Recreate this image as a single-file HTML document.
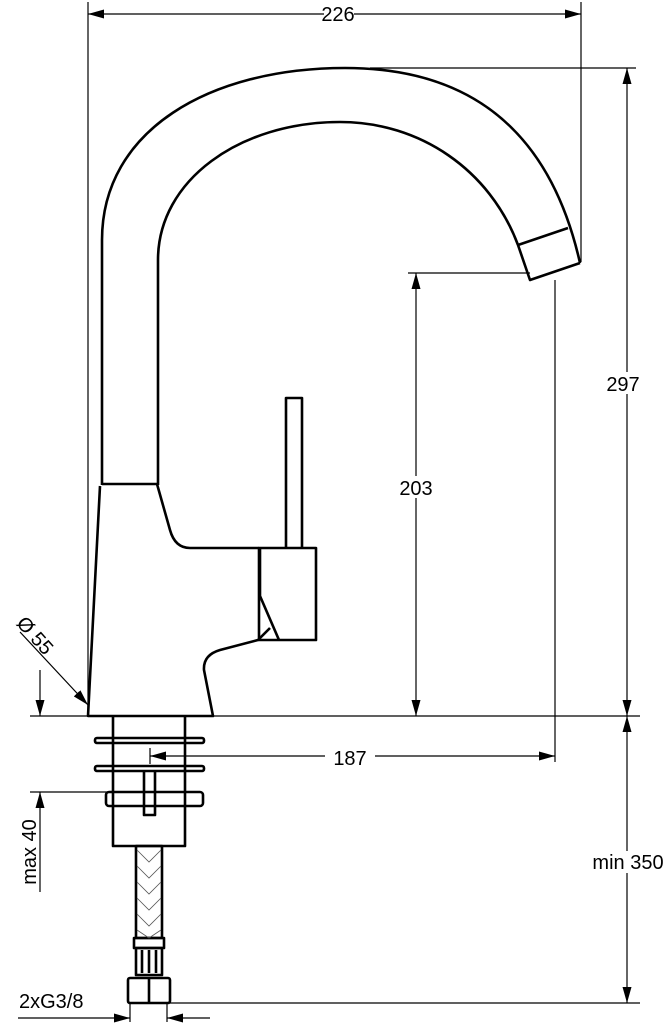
<!DOCTYPE html>
<html><head><meta charset="utf-8"><style>body{margin:0;background:#fff}svg{display:block}text{font-family:"Liberation Sans",sans-serif;font-size:20px;fill:#000}</style></head><body>
<svg width="670" height="1024" viewBox="0 0 670 1024" xmlns="http://www.w3.org/2000/svg">
<defs><marker id="a" viewBox="0 0 16 8" refX="16" refY="4" markerWidth="16" markerHeight="9" orient="auto-start-reverse" markerUnits="userSpaceOnUse" preserveAspectRatio="none"><path d="M0,0L16,4L0,8z"/></marker></defs>
<g stroke="#000" stroke-width="1.2" fill="none">
<line x1="88" y1="2" x2="88" y2="716"/><line x1="581" y1="2" x2="581" y2="262"/>
<line x1="88" y1="14" x2="581" y2="14" marker-start="url(#a)" marker-end="url(#a)"/>
<line x1="370" y1="68" x2="636" y2="68"/>
<line x1="627" y1="68" x2="627" y2="716" marker-start="url(#a)" marker-end="url(#a)"/>
<line x1="30" y1="716" x2="640" y2="716"/>
<line x1="408" y1="273" x2="530" y2="273"/>
<line x1="416" y1="273" x2="416" y2="716" marker-start="url(#a)" marker-end="url(#a)"/>
<line x1="555" y1="280" x2="555" y2="762"/>
<line x1="150" y1="756" x2="555" y2="756" marker-start="url(#a)" marker-end="url(#a)"/>
<line x1="150" y1="748" x2="150" y2="764"/>
<line x1="627" y1="716" x2="627" y2="1003" marker-start="url(#a)" marker-end="url(#a)"/>
<line x1="170" y1="1003" x2="640" y2="1003"/>
<line x1="30" y1="792" x2="112" y2="792"/>
<line x1="40" y1="670" x2="40" y2="716" marker-end="url(#a)"/>
<line x1="40" y1="892" x2="40" y2="792" marker-end="url(#a)"/>
<line x1="18" y1="1018" x2="130" y2="1018" marker-end="url(#a)"/>
<line x1="210" y1="1018" x2="167" y2="1018" marker-end="url(#a)"/>
<line x1="130" y1="1003" x2="130" y2="1022"/><line x1="167" y1="1003" x2="167" y2="1022"/>
<line x1="20" y1="632" x2="88" y2="705" marker-end="url(#a)"/>
</g>
<g stroke="#000" stroke-width="2.6" fill="none" stroke-linejoin="round">
<path d="M102,485 L102,240 C102,130 210,68 345,68 C470,68 550,130 580,263"/>
<path d="M158,485 L158,260 C158,180 240,122 340,122 C420,122 490,170 518,245 L530,280 L580,263"/>
<line x1="518" y1="245" x2="568" y2="228"/>
<path d="M102,484 L157,484 L170,530 Q175,548 190,548 L259,548"/>
<path d="M100,486 L88,716 L213,716 L204,670 Q203,655 220,650 L258,640 L270,628"/>
<rect x="259" y="548" width="57" height="92"/>
<path d="M260,548 L260,596 L279,640"/>
<path d="M286,548 L286,398 L302,398 L302,548"/>
<path d="M113,716 L113,846 L185,846 L185,716"/>
<rect x="95" y="738" width="109" height="5" rx="2"/>
<rect x="95" y="766" width="109" height="5" rx="2"/>
<rect x="106" y="792" width="97" height="14" rx="3"/>
<path d="M144,772 L144,815 L155,815 L155,772"/>
<rect x="136" y="846" width="26" height="92"/>
<rect x="134" y="938" width="30" height="10"/>
<rect x="136" y="948" width="26" height="27"/>
<line x1="142" y1="950" x2="142" y2="973"/><line x1="149" y1="950" x2="149" y2="973"/><line x1="156" y1="950" x2="156" y2="973"/>
<rect x="128" y="978" width="42" height="25" rx="2"/>
<line x1="149" y1="978" x2="149" y2="1003"/>
</g>
<g stroke="#555" stroke-width="0.8" fill="none">
<path d="M137,850 l12,12 l12,-12 M137,866 l12,12 l12,-12 M137,882 l12,12 l12,-12 M137,898 l12,12 l12,-12 M137,914 l12,12 l12,-12 M137,930 l12,8 l12,-8"/>
</g>
<rect x="324" y="4" width="30" height="20" fill="#fff"/><text x="338" y="21" text-anchor="middle">226</text>
<rect x="603" y="372" width="42" height="22" fill="#fff"/><text x="623" y="391" text-anchor="middle">297</text>
<rect x="395" y="476" width="42" height="22" fill="#fff"/><text x="416" y="495" text-anchor="middle">203</text>
<rect x="325" y="746" width="50" height="22" fill="#fff"/><text x="350" y="765" text-anchor="middle">187</text>
<rect x="584" y="851" width="86" height="22" fill="#fff"/><text x="628" y="869" text-anchor="middle">min 350</text>
<text x="19" y="1008">2xG3/8</text>
<text transform="translate(36,852) rotate(-90)" text-anchor="middle">max 40</text>
<text transform="translate(30,640) rotate(48)" text-anchor="middle">Ø 55</text>
</svg>
</body></html>
